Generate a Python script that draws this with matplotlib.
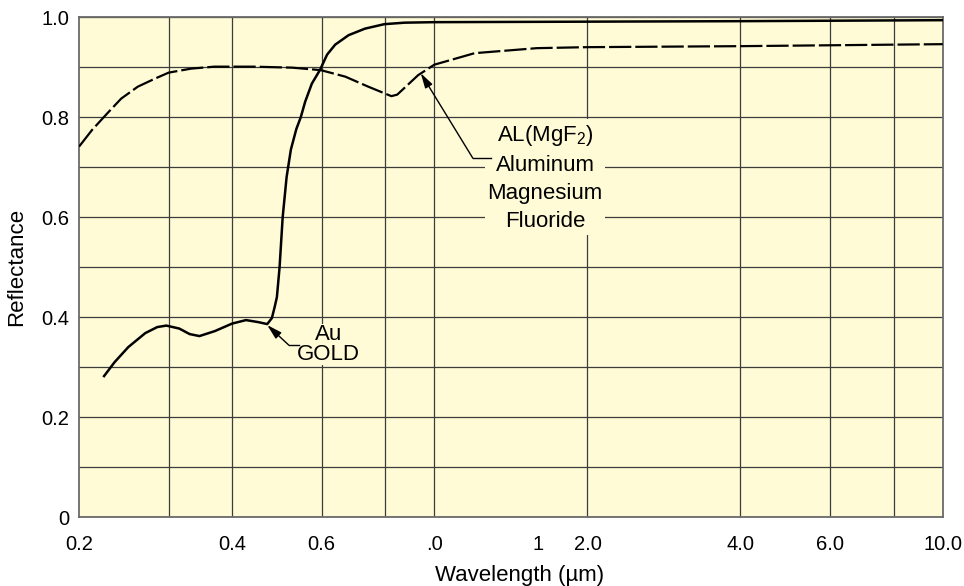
"""Reflectance of Au and Al(MgF2) coatings vs wavelength -> out.png"""

import matplotlib
matplotlib.use("Agg")
import matplotlib.pyplot as plt
import matplotlib.ticker as ticker

plt.rcParams["font.family"] = ["Liberation Sans", "DejaVu Sans"]
plt.rcParams["mathtext.fontset"] = "custom"
plt.rcParams["mathtext.rm"] = "Liberation Sans"
plt.rcParams["mathtext.default"] = "regular"

BG = "#fffbd6"
GRID = "#3c3c3c"

# Au (gold) – solid curve
gold_wl = [0.224, 0.235, 0.25, 0.27, 0.285, 0.297, 0.315, 0.33, 0.345, 0.37,
           0.40, 0.426, 0.45, 0.469, 0.479, 0.485, 0.490, 0.496, 0.503, 0.512,
           0.522, 0.535, 0.546, 0.557, 0.574, 0.596, 0.615, 0.638, 0.678,
           0.73, 0.797, 0.874, 1.0, 2.0, 4.0, 10.0]
gold_r = [0.282, 0.31, 0.34, 0.368, 0.38, 0.383, 0.377, 0.366, 0.362, 0.372,
          0.387, 0.394, 0.39, 0.386, 0.398, 0.42, 0.44, 0.50, 0.60, 0.68,
          0.735, 0.776, 0.80, 0.831, 0.867, 0.895, 0.925, 0.945, 0.964,
          0.977, 0.986, 0.989, 0.99, 0.991, 0.992, 0.994]

# Al(MgF2) – dashed curve
al_wl = [0.2, 0.212, 0.227, 0.242, 0.261, 0.282, 0.3, 0.332, 0.369, 0.4,
         0.441, 0.525, 0.598, 0.668, 0.741, 0.823, 0.845, 0.885, 0.929, 1.0,
         1.2, 1.59, 2.0, 4.0, 10.0]
al_r = [0.741, 0.774, 0.807, 0.837, 0.861, 0.877, 0.889, 0.897, 0.901, 0.901,
        0.901, 0.899, 0.894, 0.881, 0.861, 0.842, 0.845, 0.864, 0.884, 0.905,
        0.928, 0.938, 0.940, 0.942, 0.946]

x_grid = [0.3, 0.4, 0.6, 0.8, 1.0, 2.0, 4.0, 6.0, 8.0]
x_tick_pos = [0.2, 0.4, 0.6, 1.0, 1.6, 2.0, 4.0, 6.0, 10.0]
x_tick_lbl = ["0.2", "0.4", "0.6", ".0", "1", "2.0", "4.0", "6.0", "10.0"]
y_tick_pos = [0, 0.2, 0.4, 0.6, 0.8, 1.0]
y_tick_lbl = ["0", "0.2", "0.4", "0.6", "0.8", "1.0"]

fig = plt.figure(figsize=(9.64, 5.86), dpi=100)
ax = fig.add_axes([0.082, 0.1177, 0.896, 0.853])
ax.set_facecolor(BG)

ax.set_xscale("log")
ax.set_xlim(0.2, 10.0)
ax.set_ylim(0, 1.0)

ax.plot(gold_wl, gold_r, color="black", lw=1.8, zorder=3)
ax.plot(al_wl, al_r, color="black", lw=1.6, dashes=(10, 1.8), zorder=3)

# grid: vertical lines drawn directly so they don't depend on tick positions
for xv in x_grid:
    ax.axvline(xv, color=GRID, lw=0.9, zorder=1)
ax.xaxis.set_minor_locator(ticker.NullLocator())
ax.set_xticks(x_tick_pos)
ax.set_xticklabels(x_tick_lbl)
ax.set_yticks(y_tick_pos)
ax.set_yticklabels(y_tick_lbl)
ax.yaxis.set_minor_locator(ticker.MultipleLocator(0.1))
ax.grid(which="both", axis="y", color=GRID, lw=0.9, zorder=1)
ax.set_axisbelow(True)
ax.tick_params(which="both", length=0)
ax.tick_params(axis="x", labelsize=14.5, pad=13)
ax.tick_params(axis="y", labelsize=14.5, pad=7)
for s in ax.spines.values():
    s.set_color("#6a6a6a")
    s.set_linewidth(1.3)

ax.set_xlabel("Wavelength (µm)", fontsize=16, labelpad=6)
ax.xaxis.set_label_coords(0.51, -0.095)
ax.set_ylabel("Reflectance", fontsize=16, labelpad=10)

# annotations
box = dict(boxstyle="square,pad=0.1", facecolor=BG, edgecolor="none")
arrow = dict(arrowstyle="-|>,head_length=0.9,head_width=0.25", color="black",
             lw=1.0, shrinkA=0, shrinkB=0)

ax.text(1.65, 0.679, "AL(MgF$_2$)\nAluminum\nMagnesium\nFluoride", fontsize=16,
        ha="center", va="center", linespacing=1.45, bbox=box, zorder=4)
ax.plot([1.19, 1.29], [0.718, 0.718], color="black", lw=1.0, zorder=4)
ax.annotate("", xy=(0.94, 0.888), xytext=(1.19, 0.718),
            arrowprops=arrow, zorder=5)

ax.text(0.62, 0.345, "Au\nGOLD", fontsize=16, ha="center", va="center",
        linespacing=0.9, zorder=4,
        bbox=dict(boxstyle="square,pad=0", facecolor=BG, edgecolor="none"))
ax.plot([0.517, 0.541], [0.344, 0.344], color="black", lw=1.0, zorder=4)
ax.annotate("", xy=(0.469, 0.384), xytext=(0.517, 0.344),
            arrowprops=arrow, zorder=5)

fig.savefig("out.png", dpi=100, facecolor="white")
